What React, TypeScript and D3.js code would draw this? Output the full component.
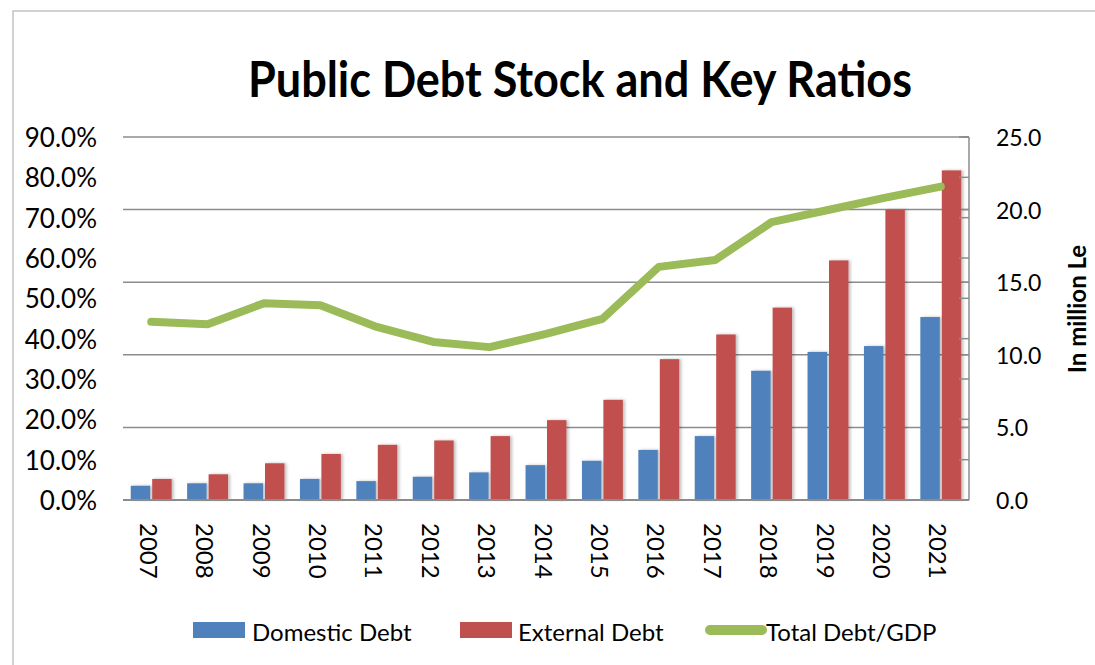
import React from "react";
import * as d3 from "d3";

const years = ["2007","2008","2009","2010","2011","2012","2013","2014","2015","2016","2017","2018","2019","2020","2021"];
const domesticDebt = [0.98, 1.15, 1.15, 1.45, 1.3, 1.6, 1.9, 2.4, 2.7, 3.45, 4.4, 8.9, 10.2, 10.6, 12.6];
const externalDebt = [1.45, 1.77, 2.53, 3.17, 3.8, 4.1, 4.4, 5.5, 6.9, 9.7, 11.4, 13.25, 16.5, 20.0, 22.7];
const debtToGdp = [0.442, 0.436, 0.488, 0.483, 0.429, 0.392, 0.379, 0.412, 0.449, 0.578, 0.595, 0.689, 0.719, 0.749, 0.777];
const leftTicks = [0, 0.1, 0.2, 0.3, 0.4, 0.5, 0.6, 0.7, 0.8, 0.9];
const rightTicks = [0, 5, 10, 15, 20, 25];

const BLUE = "#4f81bd";
const RED = "#c0504d";
const GREEN = "#9bbb59";
const FONT = "Lato, 'Open Sans', sans-serif";

export default function App() {
  const W = 1095, H = 665;
  const left = 123, right = 969, top = 137, bottom = 500;
  const x = d3.scaleBand<string>().domain(years).range([left, right]);
  const yR = d3.scaleLinear().domain([0, 25]).range([bottom, top]);
  const yL = d3.scaleLinear().domain([0, 0.9]).range([bottom, top]);
  const bw = x.bandwidth();
  const barW = bw * 0.345;
  const cx = (y: string) => (x(y) as number) + bw / 2;
  const line = d3.line<number>()
    .x((_, i) => cx(years[i]))
    .y((d) => yL(d));

  return (
    <svg width={W} height={H} viewBox={`0 0 ${W} ${H}`} style={{ position: "absolute", left: 0, top: 0, background: "#fff" }}>
      <defs>
        <filter id="shadow" x="-30%" y="-10%" width="160%" height="120%">
          <feDropShadow dx="2" dy="0" stdDeviation="1.6" floodColor="#000" floodOpacity="0.25" />
        </filter>
      </defs>
      <rect x={0} y={0} width={W} height={H} fill="#fff" />
      <rect x={13} y={11} width={W + 20} height={H + 20} fill="none" stroke="#b5b5b5" strokeWidth={1.2} />

      <text x={580} y={97} textAnchor="middle" fontFamily="'Liberation Sans Narrow', Lato, sans-serif" fontWeight="bold" fontSize={50} textLength={664} lengthAdjust="spacingAndGlyphs" fill="#000">
        Public Debt Stock and Key Ratios
      </text>

      {/* gridlines */}
      {rightTicks.filter((t) => t > 0).map((t) => (
        <line key={"g" + t} x1={left} x2={right} y1={yR(t)} y2={yR(t)} stroke="#8c8c8c" strokeWidth={1.5} />
      ))}

      {/* bars */}
      <g filter="url(#shadow)">
        {years.map((yr, i) => (
          <g key={yr}>
            <rect x={cx(yr) - 1 - barW} y={yR(domesticDebt[i])} width={barW} height={bottom - yR(domesticDebt[i])} fill={BLUE} />
            <rect x={cx(yr) + 1} y={yR(externalDebt[i])} width={barW} height={bottom - yR(externalDebt[i])} fill={RED} />
          </g>
        ))}
      </g>

      {/* right axis line and ticks */}
      <line x1={right} x2={right} y1={top} y2={bottom} stroke="#8c8c8c" strokeWidth={1.5} />
      <line x1={right - 4} x2={right} y1={top} y2={top} stroke="#8c8c8c" strokeWidth={1.5} />
      {leftTicks.map((t) => (
        <line key={"lt" + t} x1={right - 10} x2={right} y1={yL(t)} y2={yL(t)} stroke="#8c8c8c" strokeWidth={1.5} />
      ))}
      {rightTicks.map((t) => (
        <line key={"rt" + t} x1={right - 7} x2={right} y1={yR(t)} y2={yR(t)} stroke="#8c8c8c" strokeWidth={1.5} />
      ))}

      {/* x axis */}
      <line x1={left} x2={right} y1={bottom} y2={bottom} stroke="#8c8c8c" strokeWidth={2} />

      {/* line series */}
      <path d={line(debtToGdp) || ""} fill="none" stroke={GREEN} strokeWidth={8} strokeLinejoin="round" strokeLinecap="round" />

      {/* left axis labels */}
      {leftTicks.map((t) => (
        <text key={"ll" + t} x={97} y={yL(t)} textAnchor="end" dominantBaseline="central" fontFamily={FONT} fontSize={26} fill="#000">
          {(t * 100).toFixed(1) + "%"}
        </text>
      ))}

      {/* right axis labels */}
      {rightTicks.map((t) => (
        <text key={"rl" + t} x={996} y={yR(t)} textAnchor="start" dominantBaseline="central" fontFamily={FONT} fontSize={23} fill="#000">
          {t.toFixed(1)}
        </text>
      ))}
      <text transform={`translate(1076,309) rotate(-90)`} textAnchor="middle" dominantBaseline="central" fontFamily={FONT} fontWeight="bold" fontSize={24} fill="#000">
        In million Le
      </text>

      {/* x labels */}
      {years.map((yr) => (
        <text key={"xl" + yr} transform={`translate(${cx(yr) - 2},523) rotate(90)`} textAnchor="start" dominantBaseline="central" fontFamily={FONT} fontSize={24} fill="#000">
          {yr}
        </text>
      ))}

      {/* legend */}
      <rect x={193} y={622} width={52} height={16} fill={BLUE} />
      <text x={252} y={631} dominantBaseline="central" fontFamily={FONT} fontSize={24} fill="#000">Domestic Debt</text>
      <rect x={460} y={622} width={52} height={16} fill={RED} />
      <text x={518} y={631} dominantBaseline="central" fontFamily={FONT} fontSize={24} fill="#000">External Debt</text>
      <line x1={710} x2={762} y1={630} y2={630} stroke={GREEN} strokeWidth={10} strokeLinecap="round" />
      <text x={766} y={631} dominantBaseline="central" fontFamily={FONT} fontSize={24} fill="#000">Total Debt/GDP</text>
    </svg>
  );
}
